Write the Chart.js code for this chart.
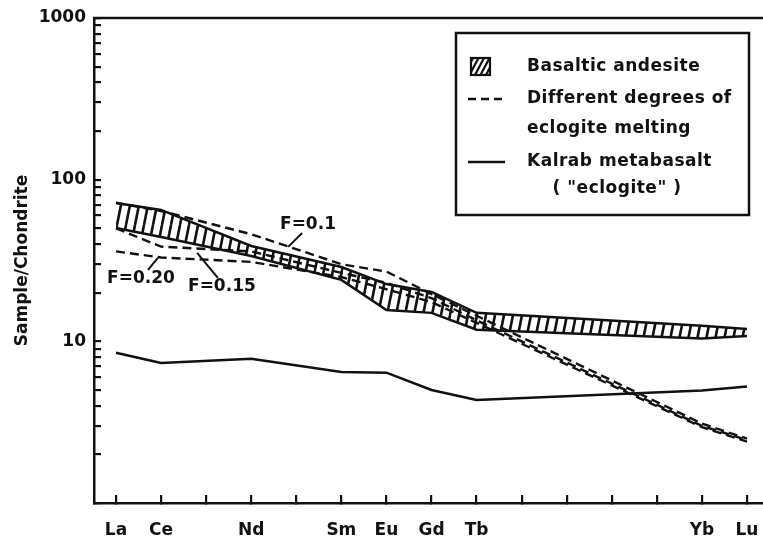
<!DOCTYPE html>
<html>
<head>
<meta charset="utf-8">
<script src="https://cdn.jsdelivr.net/npm/chart.js@4"></script>
<style>
  html, body { margin: 0; padding: 0; background: #fff; }
  canvas { display: block; }
</style>
</head>
<body>
<canvas id="ree" width="763" height="539"></canvas>
<script>
// REE order along the x axis, only some of them are lettered
const elements = ['La', 'Ce', 'Pr', 'Nd', 'Pm', 'Sm', 'Eu', 'Gd', 'Tb', 'Dy', 'Ho', 'Er', 'Tm', 'Yb', 'Lu'];
const elementLabels = ['La', 'Ce', '', 'Nd', '', 'Sm', 'Eu', 'Gd', 'Tb', '', '', '', '', 'Yb', 'Lu'];

// basaltic andesite envelope (sample/chondrite)
const andesiteUpper = [71.8, 65.0, null, 38.9, null, 28.8, 22.6, 20.2, 15.0, null, null, null, null, 12.5, 11.9];
const andesiteLower = [50.3, 44.2, null, 33.7, null, 24.0, 15.6, 15.0, 11.8, null, null, null, null, 10.4, 10.8];

// eclogite batch melting, F = fraction of melt
const meltF010 = [72.0, 64.0, null, 46.0, null, 30.0, 27.0, 19.6, 14.4, null, null, null, null, 3.10, 2.50];
const meltF015 = [50.0, 38.5, null, 36.0, null, 26.5, 23.0, 18.5, 13.5, null, null, null, null, 3.00, 2.45];
const meltF020 = [36.0, 33.0, null, 31.0, null, 25.0, 21.0, 17.5, 13.0, null, null, null, null, 2.95, 2.40];

// Kalrab metabasalt ("eclogite")
const kalrab = [8.5, 7.35, null, 7.8, null, 6.47, 6.4, 5.0, 4.34, null, null, null, null, 4.96, 5.25];

const yTickLabels = [10, 100, 1000];

const FONT = '"DejaVu Sans", sans-serif';
const INK = '#111';

const pts = vals => vals.map((v, i) => ({ x: i, y: v })).filter(p => p.y !== null);

function hatchPattern() {
  const c = document.createElement('canvas');
  c.width = 9;
  c.height = 45;
  const g = c.getContext('2d');
  g.strokeStyle = INK;
  g.lineWidth = 2.6;
  for (const dx of [-9, 0, 9]) {
    g.beginPath();
    g.moveTo(dx, 45);
    g.lineTo(dx + 9, 0);
    g.stroke();
  }
  return g.createPattern(c, 'repeat');
}

const meltLine = vals => ({
  data: pts(vals),
  borderColor: INK,
  borderWidth: 2.4,
  borderDash: [9, 5],
  pointRadius: 0,
  fill: false,
});

// top edge of the frame
const framePlugin = {
  id: 'frame',
  afterDraw(chart) {
    const { ctx, chartArea } = chart;
    ctx.save();
    ctx.strokeStyle = INK;
    ctx.lineWidth = 2.5;
    ctx.beginPath();
    ctx.moveTo(chartArea.left - 1, chartArea.top);
    ctx.lineTo(chartArea.right, chartArea.top);
    ctx.stroke();
    ctx.restore();
  },
};

// F labels with their leader lines, placed in data units
const meltNotes = [
  { text: 'F=0.1', at: [4.26, 52.5], from: [4.13, 46.8], to: [3.82, 38.4] },
  { text: 'F=0.15', at: [2.35, 21.7], from: [2.26, 24.7], to: [1.80, 35.2] },
  { text: 'F=0.20', at: [0.555, 24.3], from: [0.71, 27.7], to: [0.93, 32.8] },
];

const notesPlugin = {
  id: 'notes',
  afterDatasetsDraw(chart) {
    const { ctx, scales: { x, y } } = chart;
    ctx.save();
    ctx.fillStyle = INK;
    ctx.strokeStyle = INK;
    ctx.lineWidth = 2;
    ctx.font = 'bold 17px ' + FONT;
    ctx.textAlign = 'center';
    ctx.textBaseline = 'middle';
    meltNotes.forEach(n => {
      ctx.fillText(n.text, x.getPixelForValue(n.at[0]), y.getPixelForValue(n.at[1]));
      ctx.beginPath();
      ctx.moveTo(x.getPixelForValue(n.from[0]), y.getPixelForValue(n.from[1]));
      ctx.lineTo(x.getPixelForValue(n.to[0]), y.getPixelForValue(n.to[1]));
      ctx.stroke();
    });
    ctx.restore();
  },
};

// boxed key in the upper right
const keyPlugin = {
  id: 'key',
  afterDraw(chart) {
    const ctx = chart.ctx;
    ctx.save();
    ctx.strokeStyle = INK;
    ctx.fillStyle = INK;
    ctx.lineWidth = 2.5;
    ctx.strokeRect(456, 33, 293, 182);

    // hatched swatch
    ctx.lineWidth = 2.2;
    ctx.strokeRect(471, 58, 19, 17);
    ctx.save();
    ctx.beginPath();
    ctx.rect(471, 58, 19, 17);
    ctx.clip();
    for (let sx = 464; sx < 500; sx += 5.5) {
      ctx.beginPath();
      ctx.moveTo(sx, 75);
      ctx.lineTo(sx + 9, 58);
      ctx.stroke();
    }
    ctx.restore();

    ctx.lineWidth = 2.4;
    ctx.beginPath();
    ctx.setLineDash([8, 5]);
    ctx.moveTo(468, 99);
    ctx.lineTo(505, 99);
    ctx.stroke();
    ctx.setLineDash([]);
    ctx.beginPath();
    ctx.moveTo(468, 162);
    ctx.lineTo(505, 162);
    ctx.stroke();

    ctx.font = 'bold 17px ' + FONT;
    ctx.letterSpacing = '0.5px';
    ctx.textBaseline = 'middle';
    ctx.textAlign = 'left';
    ctx.fillText('Basaltic andesite', 527, 67);
    ctx.fillText('Different degrees of', 527, 99);
    ctx.fillText('eclogite melting', 527, 129);
    ctx.fillText('Kalrab metabasalt', 527, 162);
    ctx.textAlign = 'center';
    ctx.fillText('( "eclogite" )', 617, 189);
    ctx.restore();
  },
};

new Chart(document.getElementById('ree'), {
  type: 'line',
  data: {
    datasets: [
      {
        data: pts(andesiteUpper),
        borderColor: INK,
        borderWidth: 2.5,
        pointRadius: 0,
        fill: false,
      },
      {
        data: pts(andesiteLower),
        borderColor: INK,
        borderWidth: 2.5,
        pointRadius: 0,
        fill: '-1',
        backgroundColor: hatchPattern(),
      },
      meltLine(meltF010),
      meltLine(meltF015),
      meltLine(meltF020),
      {
        data: pts(kalrab),
        borderColor: INK,
        borderWidth: 2.5,
        pointRadius: 0,
        fill: false,
      },
    ],
  },
  options: {
    responsive: false,
    animation: false,
    events: [],
    devicePixelRatio: 1,
    layout: { padding: { top: 18, right: 0, bottom: 0, left: 0 } },
    elements: { line: { tension: 0 } },
    scales: {
      x: {
        type: 'linear',
        min: -0.488,
        max: 14.355,
        afterBuildTicks(scale) {
          scale.ticks = elements.map((_, i) => ({ value: i }));
        },
        afterFit(scale) {
          scale.height = 36;
          scale.paddingLeft = 0;
          scale.paddingRight = 0;
        },
        ticks: {
          autoSkip: false,
          maxRotation: 0,
          padding: 25,
          color: INK,
          font: { family: FONT, size: 17, weight: 'bold' },
          callback: value => elementLabels[value] ?? '',
        },
        grid: { drawOnChartArea: false, drawTicks: true, tickLength: -8, color: INK, lineWidth: 2.2 },
        border: { display: true, color: INK, width: 2.5 },
      },
      y: {
        type: 'logarithmic',
        min: 1,
        max: 1000,
        afterBuildTicks(scale) {
          const ticks = [];
          [1, 10, 100].forEach(d => {
            for (let m = 1; m < 10; m++) ticks.push({ value: m * d });
          });
          ticks.push({ value: 1000 });
          scale.ticks = ticks;
        },
        afterFit(scale) {
          scale.width = 94;
          scale.paddingTop = 0;
          scale.paddingBottom = 0;
        },
        ticks: {
          autoSkip: false,
          padding: 15,
          color: INK,
          font: { family: FONT, size: 17, weight: 'bold' },
          callback: value => (yTickLabels.includes(value) ? String(value) : ''),
        },
        grid: { drawOnChartArea: false, drawTicks: true, tickLength: -7, color: INK, lineWidth: 2.2 },
        border: { display: true, color: INK, width: 2.5 },
        title: {
          display: true,
          text: 'Sample/Chondrite',
          color: INK,
          padding: { top: 12, bottom: 0 },
          font: { family: FONT, size: 17, weight: 'bold' },
        },
      },
    },
    plugins: {
      legend: { display: false },
      tooltip: { enabled: false },
    },
  },
  plugins: [framePlugin, notesPlugin, keyPlugin],
});
</script>
</body>
</html>
